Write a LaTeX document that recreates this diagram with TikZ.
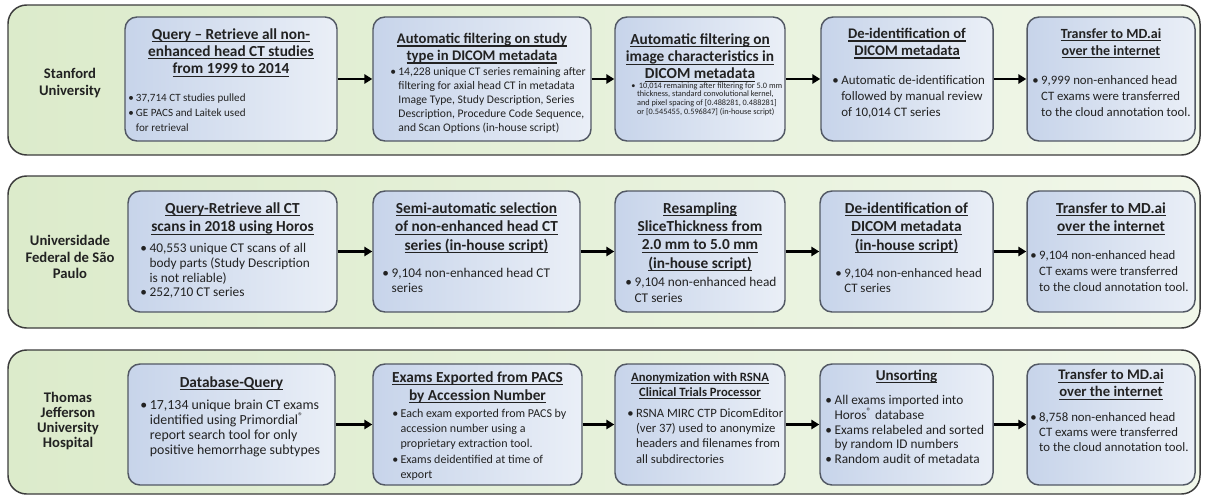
\documentclass[tikz,border=0pt]{standalone}
\usepackage{fontspec}
\setmainfont{Carlito}
\usepackage{xcolor}
\usetikzlibrary{arrows.meta, fit}

\definecolor{ink}{RGB}{34,34,34}
\definecolor{panelline}{RGB}{60,60,60}
\definecolor{greenL}{RGB}{220,235,203}
\definecolor{greenR}{RGB}{241,247,234}
\definecolor{boxline}{RGB}{82,88,100}
\definecolor{blueL}{RGB}{199,212,234}
\definecolor{blueR}{RGB}{234,239,247}

\newsavebox\ulbox
\newcommand\undl[1]{\sbox\ulbox{#1}\rlap{\rule[-0.2em]{\wd\ulbox}{0.07em}}\usebox\ulbox}
\newcommand\bu{\textbullet\hspace{0.2em}}
\newcommand\hg{\hphantom{\textbullet\hspace{0.2em}}}

\tikzset{
  panel/.style={draw=panelline, line width=1.1pt, rounded corners=14pt, left color=greenL, right color=greenR, inner sep=0pt},
  stepbox/.style={draw=boxline, line width=1.1pt, rounded corners=9pt, left color=blueL, right color=blueR, inner sep=0pt},
  site/.style={align=center, inner sep=0pt, text=ink, font=\fontsize{11}{#1}\selectfont\bfseries},
  ttl/.style 2 args={align=center, inner sep=0pt, anchor=north, text=ink, font=\fontsize{#1}{#2}\selectfont\bfseries},
  txt/.style 2 args={align=left, inner sep=0pt, anchor=north west, text=ink, font=\fontsize{#1}{#2}\selectfont},
  flow/.style={-{Triangle[length=6pt, width=7pt]}, line width=1.9pt, black}
}

\begin{document}
\begin{tikzpicture}[x=0.75pt,y=0.75pt,yscale=-1,xscale=1]
\useasboundingbox (0,0) rectangle (1205,496);

%Panels
\node[panel, fit={(8,5) (1200,155)}] (p1) {};
\node[panel, fit={(8,176) (1200,328)}] (p2) {};
\node[panel, fit={(8,350) (1200,494)}] (p3) {};

%Site names
\node[site=12.5pt] (stan) at (70,83) {Stanford\\University};
\node[site=12.2pt] (unif) at (70,257) {Universidade\\Federal de São\\Paulo};
\node[site=11.3pt] (tju) at (68,421) {Thomas\\Jefferson\\University\\Hospital};

%Stanford row
\node[stepbox, fit={(125,17) (337,141)}] (s1) {};
\node[ttl={11.5}{13}] (s1t) at (231,28) {\undl{Query -- Retrieve all non-}\\\undl{enhanced head CT studies}\\\undl{from 1999 to 2014}};
\node[txt={8.3}{11.25}] (s1b) at (128,93.5) {\bu 37,714 CT studies pulled\\\bu GE PACS and Laitek used\\\hg for retrieval};

\node[stepbox, fit={(373,17) (591,141)}] (s2) {};
\node[ttl={11}{12.75}] (s2t) at (482,33) {\undl{Automatic filtering on study}\\\undl{type in DICOM metadata}};
\node[txt={8.7}{10.5}] (s2b) at (390,67.4) {\bu 14,228 unique CT series remaining after\\\hg filtering for axial head CT in metadata\\\hg Image Type, Study Description, Series\\\hg Description, Procedure Code Sequence,\\\hg and Scan Options (in-house script)};

\node[stepbox, fit={(615,17) (785,141)}] (s3) {};
\node[ttl={11.5}{13.1}] (s3t) at (700,33) {\undl{Automatic filtering on}\\\undl{image characteristics in}\\\undl{DICOM metadata}};
\node[txt={6.2}{6.6}] (s3b) at (631,82) {\bu\ 10,014 remaining after filtering for 5.0 mm\\\hg thickness, standard convolutional kernel,\\\hg and pixel spacing of [0.488281, 0.488281]\\\hg or [0.545455, 0.596847] (in-house script)};

\node[stepbox, fit={(821,17) (993,141)}] (s4) {};
\node[ttl={11}{12.75}] (s4t) at (907,28) {\undl{De-identification of}\\\undl{DICOM metadata}};
\node[txt={9.7}{12}] (s4b) at (832,75.1) {\bu Automatic de-identification\\\hg followed by manual review\\\hg of 10,014 CT series};

\node[stepbox, fit={(1027,17) (1195,141)}] (s5) {};
\node[ttl={10.5}{12.75}] (s5t) at (1111,28) {\undl{Transfer to MD.ai}\\\undl{over the internet}};
\node[txt={9.6}{12}] (s5b) at (1032,75) {\bu 9,999 non-enhanced head\\\hg CT exams were transferred\\\hg to the cloud annotation tool.};

\draw[flow] (s1.east) -- (s2.west);
\draw[flow] (s2.east) -- (s3.west);
\draw[flow] (s3.east) -- (s4.west);
\draw[flow] (s4.east) -- (s5.west);

%Sao Paulo row
\node[stepbox, fit={(128,191) (337,312)}] (u1) {};
\node[ttl={11.5}{14}] (u1t) at (232.5,202.2) {\undl{Query-Retrieve all CT}\\\undl{scans in 2018 using Horos}};
\node[txt={10}{11.1}] (u1b) at (140,243) {\bu 40,553 unique CT scans of all\\\hg body parts (Study Description\\\hg is not reliable)\\\bu 252,710 CT series};

\node[stepbox, fit={(373,191) (580,312)}] (u2) {};
\node[ttl={11.5}{13.9}] (u2t) at (476.5,202.2) {\undl{Semi-automatic selection}\\\undl{of non-enhanced head CT}\\\undl{series (in-house script)}};
\node[txt={10}{11.25}] (u2b) at (382,268) {\bu 9,104 non-enhanced head CT\\\hg series};

\node[stepbox, fit={(615,191) (785,312)}] (u3) {};
\node[ttl={11.5}{13.75}] (u3t) at (700,202.2) {\undl{Resampling}\\\undl{SliceThickness from}\\\undl{2.0 mm to 5.0 mm}\\\undl{(in-house script)}};
\node[txt={10}{12}] (u3b) at (625,277) {\bu 9,104 non-enhanced head\\\hg CT series};

\node[stepbox, fit={(820,191) (993,312)}] (u4) {};
\node[ttl={11.5}{13.9}] (u4t) at (906.5,202.2) {\undl{De-identification of}\\\undl{DICOM metadata}\\\undl{(in-house script)}};
\node[txt={9.7}{11.25}] (u4b) at (835,268) {\bu 9,104 non-enhanced head\\\hg CT series};

\node[stepbox, fit={(1027,191) (1195,312)}] (u5) {};
\node[ttl={11.5}{14}] (u5t) at (1111,202.2) {\undl{Transfer to MD.ai}\\\undl{over the internet}};
\node[txt={9.6}{12}] (u5b) at (1030,250) {\bu 9,104 non-enhanced head\\\hg CT exams were transferred\\\hg to the cloud annotation tool.};

\draw[flow] (u1.east) -- (u2.west);
\draw[flow] (u2.east) -- (u3.west);
\draw[flow] (u3.east) -- (u4.west);
\draw[flow] (u4.east) -- (u5.west);

%Jefferson row
\node[stepbox, fit={(128,364) (335,485)}] (j1) {};
\node[ttl={11.5}{13}] (j1t) at (231.5,376.2) {\undl{Database-Query}};
\node[txt={10.4}{11.25}] (j1b) at (140,399.7) {\bu 17,134 unique brain CT exams\\\hg identified using Primordial\textsuperscript{\textregistered}\\\hg report search tool for only\\\hg positive hemorrhage subtypes};

\node[stepbox, fit={(373,364) (582,485)}] (j2) {};
\node[ttl={11.5}{13.5}] (j2t) at (477.5,371.2) {\undl{Exams Exported from PACS}\\\undl{by Accession Number}};
\node[txt={9}{11.5}] (j2b) at (392,408.4) {\bu Each exam exported from PACS by\\\hg accession number using a\\\hg proprietary extraction tool.\\\bu Exams deidentified at time of\\\hg export};

\node[stepbox, fit={(615,364) (785,485)}] (j3) {};
\node[ttl={9.5}{11.25}] (j3t) at (700,372.2) {\undl{Anonymization with RSNA}\\\undl{Clinical Trials Processor}};
\node[txt={9.5}{11.5}] (j3b) at (627,408.2) {\bu RSNA MIRC CTP DicomEditor\\\hg (ver 37) used to anonymize\\\hg headers and filenames from\\\hg all subdirectories};

\node[stepbox, fit={(820,364) (993,485)}] (j4) {};
\node[ttl={11.3}{13}] (j4t) at (906.5,369.3) {\undl{Unsorting}};
\node[txt={10}{11.1}] (j4b) at (825,395) {\bu All exams imported into\\\hg Horos\textsuperscript{\textregistered} database\\\bu Exams relabeled and sorted\\\hg by random ID numbers\\\bu Random audit of metadata};

\node[stepbox, fit={(1027,364) (1195,485)}] (j5) {};
\node[ttl={11}{12.75}] (j5t) at (1111,369.4) {\undl{Transfer to MD.ai}\\\undl{over the internet}};
\node[txt={9.6}{11.25}] (j5b) at (1030,412) {\bu 8,758 non-enhanced head\\\hg CT exams were transferred\\\hg to the cloud annotation tool.};

\draw[flow] (j1.east) -- (j2.west);
\draw[flow] (j2.east) -- (j3.west);
\draw[flow] (j3.east) -- (j4.west);
\draw[flow] (j4.east) -- (j5.west);

\end{tikzpicture}
\end{document}
